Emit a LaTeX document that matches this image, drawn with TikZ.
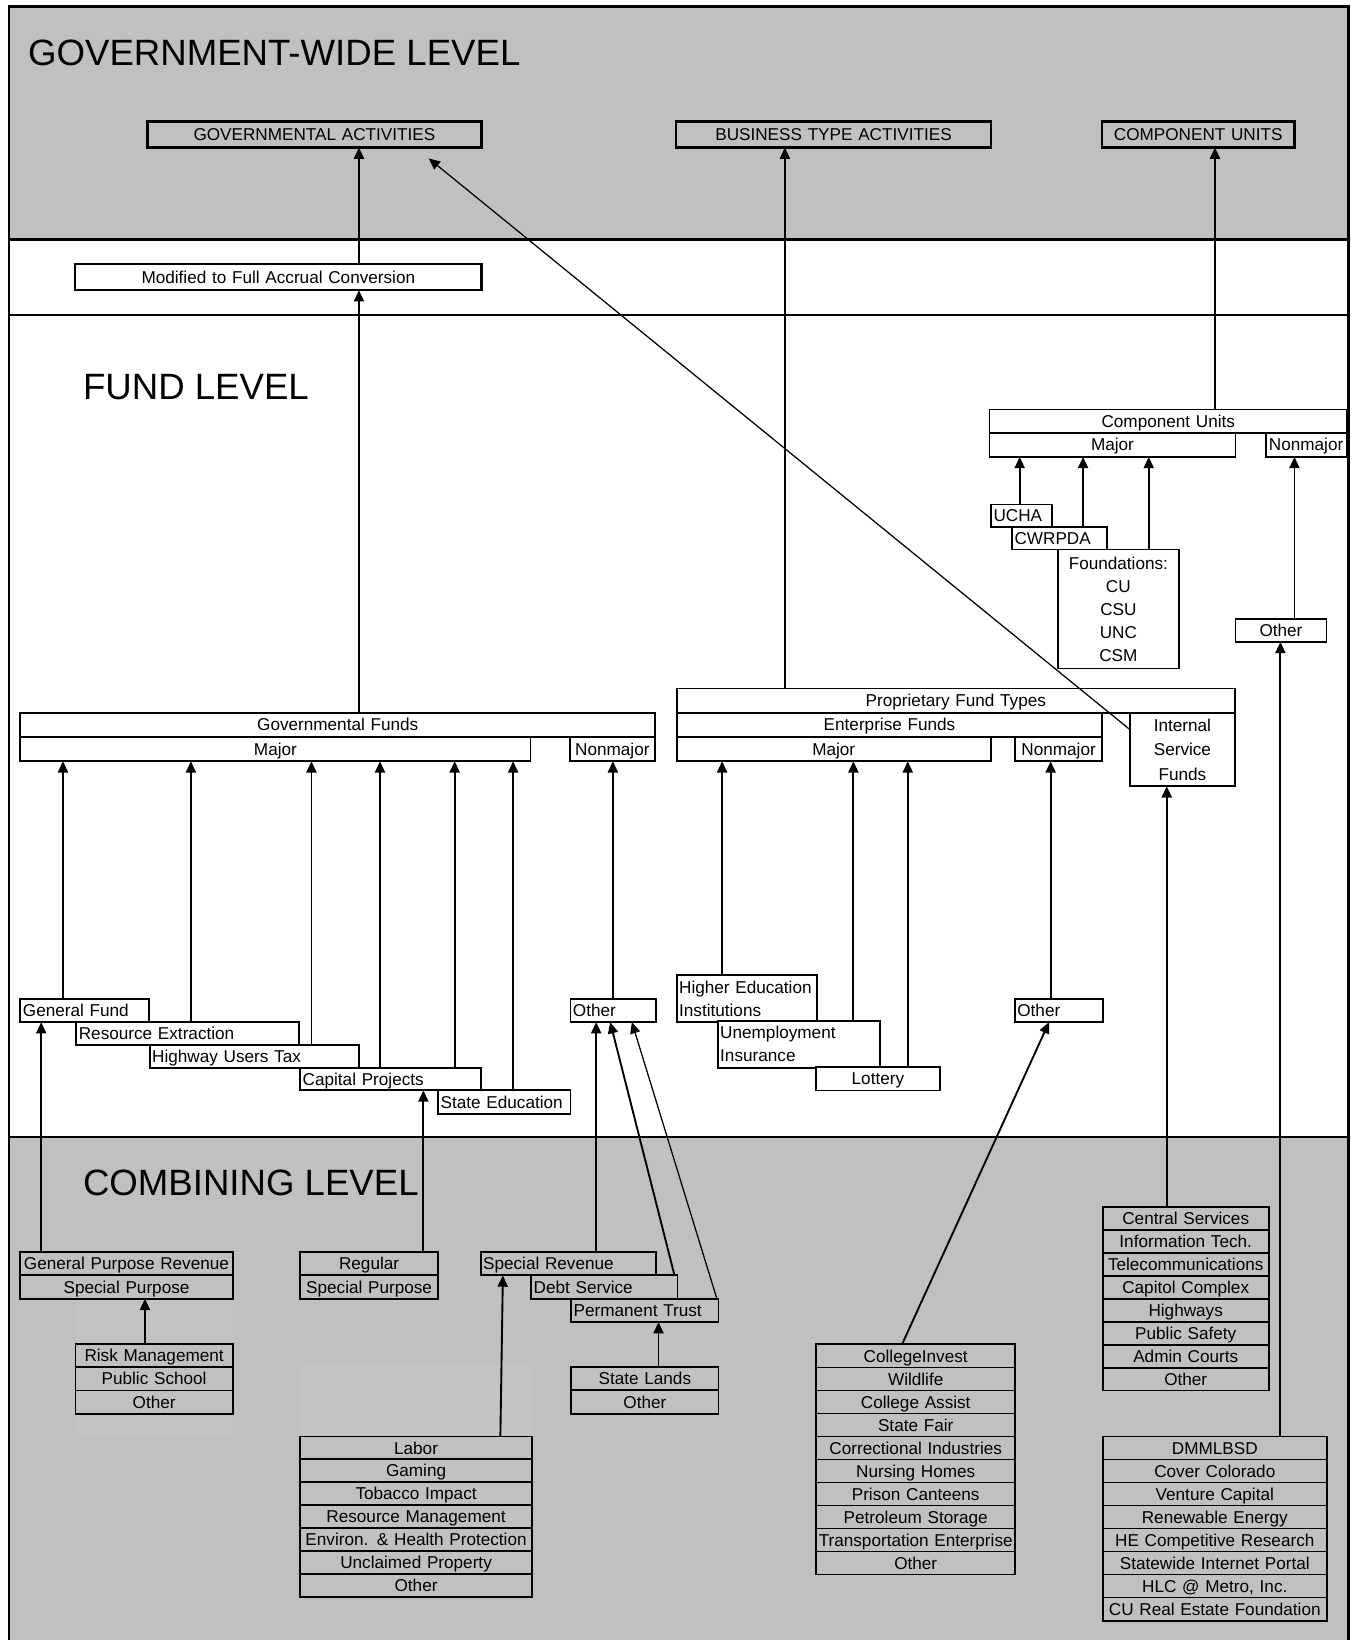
\documentclass[tikz,border=0pt]{standalone}
\usepackage{fontspec}
\setmainfont{Liberation Sans}
\usetikzlibrary{arrows.meta}
\definecolor{bandgray}{HTML}{C0C0C0}
\definecolor{hazegray}{HTML}{C3C3C3}
\tikzset{
  cellbase/.style={draw, line width=0.9pt, anchor=north west, outer sep=0pt,
    inner xsep=1.2pt, inner ysep=0pt, fill=white, font=\fontsize{8.2}{11}\selectfont},
  cell/.style={cellbase, minimum height=11.2pt, text height=7pt, text depth=1.2pt},
  gcell/.style={cell, fill=bandgray},
  topbox/.style={gcell, line width=1.2pt, minimum height=12.3pt, align=center},
  title/.style={anchor=base west, inner sep=0pt, font=\fontsize{17.5}{21}\selectfont},
  arr/.style={-{Triangle[length=5.4pt,width=4.8pt]}, line width=0.9pt},
  slimarr/.style={arr, line width=0.6pt},
}
\begin{document}
\begin{tikzpicture}[x=1pt, y=-1pt]
  \useasboundingbox (0,0) rectangle (647,784);

  % Draw the level bands and the frame
  \fill[bandgray] (4.25,3.2) rectangle (644.75,114.5);
  \fill[bandgray] (4.25,543.6) rectangle (644.75,786);
  \fill[hazegray] (36.1,621) rectangle (111.3,685.5);
  \fill[hazegray] (143.5,652.7) rectangle (254.3,686.4);
  \draw[line width=1.2pt] (4.25,3.2) rectangle (644.75,786);
  \draw[line width=1.2pt] (4.25,114.5) -- (644.75,114.5);
  \draw[line width=1.2pt] (4.25,150.6) -- (644.75,150.6);
  \draw[line width=1.2pt] (4.25,543.6) -- (644.75,543.6);

  % Level titles
  \node[title] (gwtitle) at (13.25,31.4) {GOVERNMENT-WIDE LEVEL};
  \node[title] (fundtitle) at (39.5,191) {FUND LEVEL};
  \node[title] (combtitle) at (39.5,571.5) {COMBINING LEVEL};

  % Government-wide boxes
  \node[topbox, text width=157.3pt] (govact) at (70.45,58.2) {GOVERNMENTAL ACTIVITIES};
  \node[topbox, text width=148.3pt] (busact) at (323.1,58.2) {BUSINESS TYPE ACTIVITIES};
  \node[topbox, text width=89.8pt] (cuact) at (526.7,58.2) {COMPONENT UNITS};
  \node[cell, line width=1.2pt, minimum height=12.45pt, text width=191.9pt, align=center] (modconv) at (35.9,126.25) {Modified to Full Accrual Conversion};

  % Governmental funds
  \node[cell, minimum height=11.6pt, text width=301pt, align=center] (govfunds) at (9.75,340.65) {Governmental Funds};
  \node[cell, minimum height=11.65pt, text width=241.45pt, align=center] (govmajor) at (9.75,352.25) {Major};
  \node[cell, minimum height=11.65pt, text width=38.45pt, align=center] (govnonmajor) at (272.3,352.25) {Nonmajor};
  \node[cell, text width=58.95pt, align=left] (genfund) at (9.75,477.4) {General Fund};
  \node[cell, minimum height=10.85pt, text width=104.2pt, align=left] (resext) at (36.5,488.55) {Resource Extraction};
  \node[cell, minimum height=11pt, text width=97.75pt, align=left] (hwytax) at (71.55,499.4) {Highway Users Tax};
  \node[cell, minimum height=10.85pt, text width=83.85pt, align=left] (capproj) at (143.5,510.4) {Capital Projects};
  \node[cell, text width=60.85pt, align=left] (stateedu) at (209.45,521.25) {State Education};
  \node[cell, text width=38.45pt, align=left] (govother) at (272.7,477.4) {Other};

  % Proprietary funds
  \node[cell, minimum height=11.5pt, text width=264.55pt, align=center] (propfunds) at (323.45,329.15) {Proprietary Fund Types};
  \node[cell, minimum height=11.6pt, text width=201.15pt, align=center] (entfunds) at (323.45,340.65) {Enterprise Funds};
  \node[cell, minimum height=11.65pt, text width=147.85pt, align=center] (entmajor) at (323.45,352.25) {Major};
  \node[cell, minimum height=11.65pt, text width=39.45pt, align=center] (entnonmajor) at (485.15,352.25) {Nonmajor};
  \node[cellbase, minimum height=35.2pt, text width=47.9pt, align=center, font=\fontsize{8.2}{11.7}\selectfont] (intserv) at (540.1,340.65) {Internal\\Service\\Funds};
  \node[cellbase, minimum height=22.3pt, text width=64.8pt, align=left] (higher) at (323.45,466.25) {Higher Education\\Institutions};
  \node[cellbase, minimum height=22.3pt, text width=75.15pt, align=left] (unemp) at (343.1,488.1) {Unemployment\\Insurance};
  \node[cell, text width=56.55pt, align=center] (lottery) at (390.2,510.1) {Lottery};
  \node[cell, text width=39.8pt, align=left] (entother) at (485.15,477.4) {Other};

  % Component units
  \node[cell, text width=168.6pt, align=center] (cunits) at (473,195.75) {Component Units};
  \node[cell, minimum height=11.5pt, text width=115.2pt, align=center] (cumajor) at (473,206.9) {Major};
  \node[cell, minimum height=11.5pt, text width=36.2pt, align=left] (cunonmajor) at (605.4,206.9) {Nonmajor};
  \node[cell, minimum height=10.7pt, text width=26.75pt, align=left] (ucha) at (473.75,241.15) {UCHA};
  \node[cell, minimum height=10.85pt, text width=43pt, align=left] (cwrpda) at (483.8,251.85) {CWRPDA};
  \node[cellbase, minimum height=56.9pt, text width=55.35pt, align=center] (found) at (505.75,262.7) {Foundations:\\CU\\CSU\\UNC\\CSM};
  \node[cell, minimum height=11pt, text width=41.1pt, align=center] (cuother) at (590.6,295.85) {Other};

  % Combining level boxes
  \node[gcell, text width=99.15pt, align=center] (gpr) at (9.7,598.5) {General Purpose Revenue};
  \node[gcell, minimum height=11.15pt, text width=99.15pt, align=center] (gspec) at (9.7,609.7) {Special Purpose};
  \foreach \lbl [count=\i] in {Risk Management, Public School, Other}
    \node[gcell, minimum height=11.15pt, text width=72.75pt, align=center] (risk\i) at (36.1,{642.4+11.15*(\i-1)}) {\lbl};

  \node[gcell, text width=63.5pt, align=center] (regular) at (143.5,598.5) {Regular};
  \node[gcell, minimum height=11.15pt, text width=63.5pt, align=center] (rspec) at (143.5,609.7) {Special Purpose};
  \foreach \lbl [count=\i] in {Labor, Gaming, Tobacco Impact, Resource Management, Environ. \& Health Protection, Unclaimed Property, Other}
    \node[gcell, minimum height=10.97pt, text width=108.4pt, align=center] (labor\i) at (143.5,{686.7+10.97*(\i-1)}) {\lbl};

  \node[gcell, text width=81.55pt, align=left] (specrev) at (229.75,598.5) {Special Revenue};
  \node[gcell, minimum height=11.15pt, text width=67.55pt, align=left] (debtserv) at (253.9,609.7) {Debt Service};
  \node[gcell, minimum height=11.15pt, text width=68.05pt, align=left] (permtrust) at (273.05,620.85) {Permanent Trust};
  \foreach \lbl [count=\i] in {State Lands, Other}
    \node[gcell, minimum height=11.15pt, text width=68.05pt, align=center] (lands\i) at (273.05,{653.5+11.15*(\i-1)}) {\lbl};

  \foreach \lbl [count=\i] in {CollegeInvest, Wildlife, College Assist, State Fair, Correctional Industries, Nursing Homes, Prison Canteens, Petroleum Storage, Transportation Enterprise, Other}
    \node[gcell, minimum height=11pt, text width=92.9pt, align=center] (college\i) at (390.1,{642.7+11*(\i-1)}) {\lbl};

  \foreach \lbl [count=\i] in {Central Services, Information Tech., Telecommunications, Capitol Complex, Highways, Public Safety, Admin Courts, Other}
    \node[gcell, minimum height=10.96pt, text width=76.95pt, align=center] (central\i) at (527.15,{577.05+10.96*(\i-1)}) {\lbl};

  \foreach \lbl [count=\i] in {DMMLBSD, Cover Colorado, Venture Capital, Renewable Energy, HE Competitive Research, Statewide Internet Portal, {HLC @ Metro, Inc.}, CU Real Estate Foundation}
    \node[gcell, minimum height=11pt, text width=104.75pt, align=center] (dmml\i) at (527.15,{686.7+11*(\i-1)}) {\lbl};

  % Arrows up to the government-wide level
  \draw[arr] (modconv.north -| 171.6,0) -- (govact.south -| 171.6,0);
  \draw[arr] (govfunds.north -| 171.6,0) -- (modconv.south -| 171.6,0);
  \draw[arr] (propfunds.north -| 375.2,0) -- (busact.south -| 375.2,0);
  \draw[arr] (cunits.north -| 580.8,0) -- (cuact.south -| 580.8,0);
  \draw[slimarr] ([yshift=-8.1pt]intserv.north west) -- ([xshift=54.65pt,yshift=-5.25pt]govact.south);

  % Arrows inside the fund level
  \foreach \x/\src in {30.1/genfund, 91.25/resext, 148.9/hwytax, 181.65/capproj, 217.35/capproj, 245.3/stateedu}
    \draw[arr] (\src.north -| \x,0) -- (govmajor.south -| \x,0);
  \draw[arr] (govother.north -| 293,0) -- (govnonmajor.south -| 293,0);
  \foreach \x/\src in {345.2/higher, 407.95/unemp, 433.95/lottery}
    \draw[arr] (\src.north -| \x,0) -- (entmajor.south -| \x,0);
  \draw[arr] (entother.north -| 502.25,0) -- (entnonmajor.south -| 502.25,0);
  \foreach \x/\src in {487.45/ucha, 517.75/cwrpda, 549.15/found}
    \draw[arr] (\src.north -| \x,0) -- (cumajor.south -| \x,0);
  \draw[arr] (cuother.north -| 618.8,0) -- (cunonmajor.south -| 618.8,0);

  % Arrows from the combining level
  \draw[arr] (gpr.north -| 19.7,0) -- (genfund.south -| 19.7,0);
  \draw[arr] (risk1.north -| 69.3,0) -- (gspec.south -| 69.3,0);
  \draw[arr] (regular.north -| 202.4,0) -- (capproj.south -| 202.4,0);
  \draw[arr] (specrev.north -| 285,0) -- (govother.south -| 285,0);
  \draw[arr] (debtserv.north -| 322.45,0) -- (govother.south -| 291.7,0);
  \draw[slimarr] (permtrust.north -| 342.7,0) -- (govother.south -| 302.05,0);
  \draw[arr] (lands1.north -| 314.8,0) -- (permtrust.south -| 314.8,0);
  \draw[arr] (labor1.north -| 239.2,0) -- (specrev.south -| 240.4,0);
  \draw[arr] (college1.north -| 431.2,0) -- (entother.south -| 501.5,0);
  \draw[arr] (central1.north -| 557.75,0) -- (intserv.south -| 557.75,0);
  \draw[arr] (dmml1.north -| 612.1,0) -- (cuother.south -| 612.1,0);
\end{tikzpicture}
\end{document}
